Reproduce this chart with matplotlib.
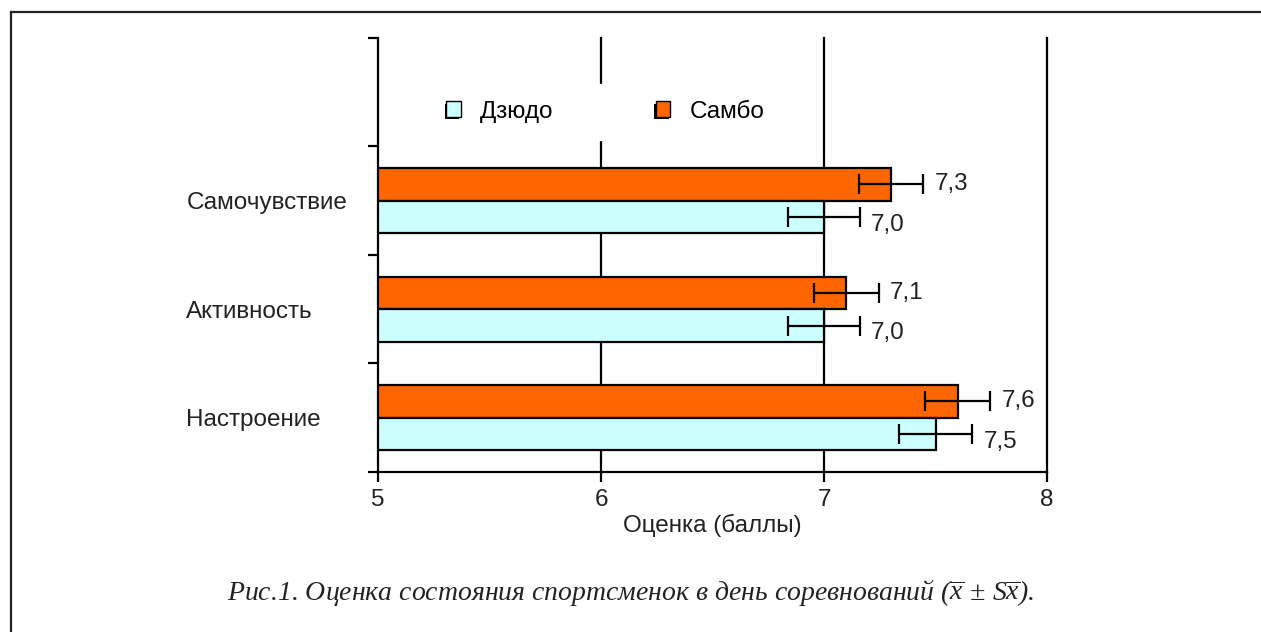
import matplotlib
matplotlib.use("Agg")
import matplotlib.pyplot as plt
import numpy as np
from matplotlib.lines import Line2D
from matplotlib.patches import Patch
import matplotlib.patheffects as pe

plt.rcParams['font.family'] = ['Liberation Sans', 'DejaVu Sans']
plt.rcParams['mathtext.fontset'] = 'custom'
plt.rcParams['mathtext.rm'] = 'Liberation Serif:italic'
plt.rcParams['mathtext.it'] = 'Liberation Serif:italic'

# data (bottom to top)
categories = ['Настроение', 'Активность', 'Самочувствие']
judo = np.array([7.5, 7.0, 7.0])
judo_err = np.array([0.165, 0.16, 0.16])
sambo = np.array([7.6, 7.1, 7.3])
sambo_err = np.array([0.145, 0.145, 0.145])
judo_labels = ['7,5', '7,0', '7,0']
sambo_labels = ['7,6', '7,1', '7,3']
x_ticks = [5, 6, 7, 8]

c_judo = '#CCFFFF'
c_sambo = '#FF6600'
fs = 17.5

fig = plt.figure(figsize=(12.61, 6.32), dpi=100)
ax = fig.add_axes([0.2998, 0.2532, 0.5305, 0.6867])

y = np.arange(len(categories))
h = 0.3
ekw = dict(ecolor='black', elinewidth=1.6, capsize=7, capthick=1.6)

ax.barh(y + h / 2, sambo - 5, left=5, height=h, color=c_sambo,
        edgecolor='black', linewidth=1.6, zorder=3)
ax.barh(y - h / 2, judo - 5, left=5, height=h, color=c_judo,
        edgecolor='black', linewidth=1.6, zorder=3)
ax.errorbar(sambo, y + h / 2, xerr=sambo_err, fmt='none', zorder=4, **ekw)
ax.errorbar(judo, y - h / 2, xerr=judo_err, fmt='none', zorder=4, **ekw)

for i in range(len(categories)):
    ax.text(sambo[i] + sambo_err[i] + 0.05, y[i] + h / 2, sambo_labels[i],
            ha='left', va='center', fontsize=fs, color='#222222')
    ax.text(judo[i] + judo_err[i] + 0.05, y[i] - h / 2 - 0.07, judo_labels[i],
            ha='left', va='center', fontsize=fs, color='#222222')

ax.set_xlim(5, 8)
ax.set_ylim(-0.5, 3.5)

ax.set_xticks(x_ticks)
ax.set_xticklabels([str(t) for t in x_ticks], fontsize=fs, color='#222222')
ax.tick_params(axis='x', direction='out', length=7, width=1.6, pad=5)
for t in x_ticks[1:]:
    ax.axvline(t, color='black', lw=1.6, zorder=1, clip_on=False)

ax.set_yticks(np.arange(-0.5, 3.6, 1.0))
ax.set_yticklabels([])
ax.tick_params(axis='y', which='major', direction='out', length=7, width=1.6)
ax.set_yticks(y, minor=True)
ax.set_yticklabels(categories, minor=True, fontsize=fs, color='#222222')
ax.tick_params(axis='y', which='minor', length=0, pad=138)
for lab in ax.get_yticklabels(minor=True):
    lab.set_horizontalalignment('left')

for s in ['top', 'right']:
    ax.spines[s].set_visible(False)
for s in ['left', 'bottom']:
    ax.spines[s].set_linewidth(1.6)

ax.set_xlabel('Оценка (баллы)', fontsize=fs, color='#222222', labelpad=2)

handles = [Patch(facecolor=c_judo, edgecolor='black', linewidth=1.0),
           Patch(facecolor=c_sambo, edgecolor='black', linewidth=1.0)]
leg = ax.legend(handles, ['Дзюдо', 'Самбо'], loc='center', bbox_to_anchor=(0.34, 0.83),
                ncol=2, frameon=True, fontsize=fs, handlelength=0.6, handleheight=0.6,
                handletextpad=0.8, columnspacing=4.2, borderpad=0.7)
leg.get_frame().set_edgecolor('white')
leg.get_frame().set_facecolor('white')
leg.get_frame().set_alpha(1)
leg.set_zorder(5)
for hnd in leg.legend_handles:
    hnd.set_path_effects([pe.SimplePatchShadow(offset=(-1, -1.5), shadow_rgbFace='black', alpha=1),
                          pe.Normal()])

fig.text(0.5, 0.063,
         r'Рис.1. Оценка состояния спортсменок в день соревнований $(\overline{x}\,\pm\,S\overline{x})$.',
         ha='center', va='center', fontsize=20, style='italic',
         family=['Liberation Serif', 'DejaVu Serif'], color='#222222')

# outer frame (top and left edges)
fig.add_artist(Line2D([11 / 1261, 1], [1 - 12 / 632, 1 - 12 / 632],
                      transform=fig.transFigure, color='#222222', lw=1.6))
fig.add_artist(Line2D([11 / 1261, 11 / 1261], [0, 1 - 12 / 632],
                      transform=fig.transFigure, color='#222222', lw=1.6))

fig.savefig('out.png', dpi=100)
